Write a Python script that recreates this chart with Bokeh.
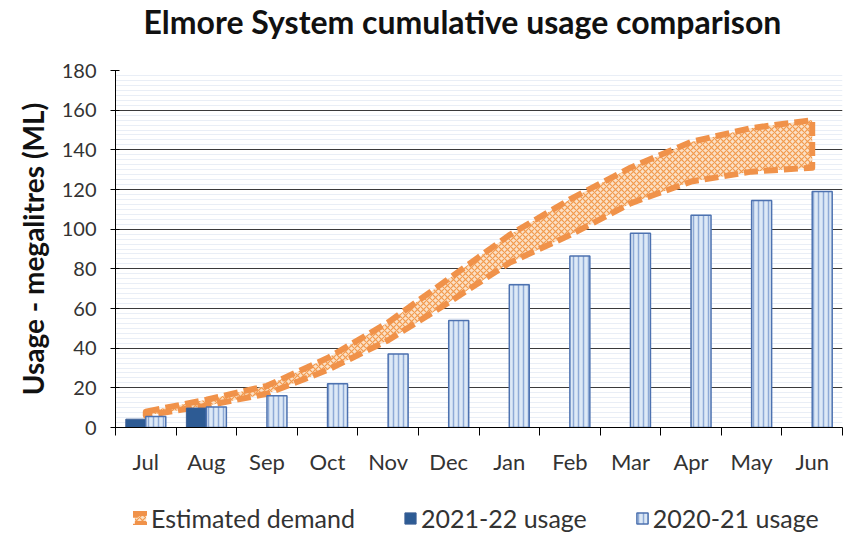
from bokeh.plotting import figure
from bokeh.layouts import column
from bokeh.models import (ColumnDataSource, FixedTicker, SingleIntervalTicker, Range1d,
                          Legend, LegendItem, Title)
from bokeh.embed import file_html
from bokeh.resources import INLINE

# ---- data ----
months = ["Jul", "Aug", "Sep", "Oct", "Nov", "Dec", "Jan", "Feb", "Mar", "Apr", "May", "Jun"]
usage_2020_21 = [5.5, 10.3, 16, 22, 37, 54, 72, 86.5, 98, 107, 114.5, 119]
usage_2021_22 = [4.2, 9.8]
demand_low = [6, 11, 17, 29, 44, 63, 83, 97, 113, 124, 129, 131]
demand_high = [8, 14, 21, 35, 53, 75, 97, 115, 131, 144, 151, 155]
y_max = 180
y_step = 20

FONT = "Lato"
TXT = "#333333"

n = len(months)
centers = [i + 0.5 for i in range(n)]
bounds = [float(i) for i in range(n + 1)]
bar_w = 0.33

BAND_STYLE = dict(fill_color="#fbe0c6", fill_alpha=1.0,
                  hatch_pattern="diagonal_cross", hatch_color="#f29a4c", hatch_scale=6, hatch_weight=1.2,
                  line_color="#f0924a", line_width=6, line_dash="14 6", line_join="round")
DARK_STYLE = dict(fill_color="#2d5b94", line_color="#3c5f95", line_width=1)
LIGHT_STYLE = dict(fill_color="#dde9f6", hatch_pattern="vertical_line", hatch_color="#8eaad6",
                   hatch_scale=5, hatch_weight=1.5, line_color="#4d72b0", line_width=1.5)

p = figure(width=850, height=477, output_backend="svg", toolbar_location=None, title=None,
           x_range=Range1d(0, n), y_range=Range1d(0, y_max),
           min_border_left=115, min_border_right=8, min_border_top=70, min_border_bottom=50)
p.outline_line_color = None
p.background_fill_color = "white"

# estimated demand band
band_src = ColumnDataSource(dict(x=centers + centers[::-1], y=demand_high + demand_low[::-1]))
p.patch("x", "y", source=band_src, **BAND_STYLE)

# bars
src_a = ColumnDataSource(dict(x=[c + bar_w / 2 for c in centers], top=usage_2020_21))
src_b = ColumnDataSource(dict(x=[c - bar_w / 2 for c in centers[:len(usage_2021_22)]], top=usage_2021_22))
p.vbar(x="x", top="top", width=bar_w, source=src_b, **DARK_STYLE)
p.vbar(x="x", top="top", width=bar_w, source=src_a, **LIGHT_STYLE)

# axes
xa = p.xaxis[0]
xa.ticker = FixedTicker(ticks=centers, minor_ticks=bounds)
xa.major_label_overrides = {c: m for c, m in zip(centers, months)}
xa.major_tick_out = 0
xa.major_tick_in = 0
xa.minor_tick_out = 8
xa.minor_tick_in = 0
xa.minor_tick_line_color = "black"
xa.axis_line_color = "black"
xa.major_label_text_font = FONT
xa.major_label_text_font_size = "22px"
xa.major_label_text_color = TXT
xa.major_label_standoff = 12

ya = p.yaxis[0]
ya.ticker = SingleIntervalTicker(interval=y_step, num_minor_ticks=8)
ya.major_tick_in = 4
ya.major_tick_out = 5
ya.minor_tick_line_color = None
ya.axis_line_color = "black"
ya.major_tick_line_color = "black"
ya.major_label_text_font = FONT
ya.major_label_text_font_size = "20px"
ya.major_label_text_color = TXT
ya.major_label_standoff = 14
ya.axis_label = "Usage - megalitres (ML)"
ya.axis_label_text_font = FONT
ya.axis_label_text_font_style = "bold"
ya.axis_label_text_font_size = "28px"
ya.axis_label_text_color = "#111111"
ya.axis_label_standoff = 9

p.xgrid.grid_line_color = None
p.ygrid.grid_line_color = "#3a3a3a"
p.ygrid.grid_line_width = 1.2
p.ygrid.minor_grid_line_color = "#e9eef6"

# title (with an empty spacer panel between it and the plot area)
p.add_layout(Title(text=" ", text_font_size="10px", standoff=16), "above")
p.add_layout(Title(text="Elmore System cumulative usage comparison", align="left", offset=28,
                   vertical_align="middle", standoff=0,
                   text_font=FONT, text_font_style="bold", text_font_size="32px",
                   text_color="#111111"), "above")

# ---- legend strip below the chart (hidden copies of the series supply the swatches) ----
lf = figure(width=850, height=57, output_backend="svg", toolbar_location=None, title=None,
            x_axis_location=None, y_axis_location=None, min_border=0,
            x_range=Range1d(0, n), y_range=Range1d(0, y_max))
lf.outline_line_color = None
lf.grid.visible = False
r_band = lf.patch("x", "y", source=band_src, visible=False, **BAND_STYLE)
r_dark = lf.vbar(x="x", top="top", width=bar_w, source=src_b, visible=False, **DARK_STYLE)
r_light = lf.vbar(x="x", top="top", width=bar_w, source=src_a, visible=False, **LIGHT_STYLE)

legend = Legend(items=[LegendItem(label="Estimated demand", renderers=[r_band]),
                       LegendItem(label="2021-22 usage", renderers=[r_dark]),
                       LegendItem(label="2020-21 usage", renderers=[r_light])],
                orientation="horizontal", location=(18, 1))
legend.background_fill_alpha = 0
legend.border_line_color = None
legend.inactive_fill_alpha = 0
legend.label_text_font = FONT
legend.label_text_font_size = "25px"
legend.label_text_color = TXT
legend.glyph_width = 14
legend.glyph_height = 14
legend.spacing = 48
legend.padding = 0
legend.margin = 0
legend.label_standoff = 4
lf.add_layout(legend)

page = column(p, lf, spacing=0)
open("out.html", "w").write(file_html(page, INLINE))
